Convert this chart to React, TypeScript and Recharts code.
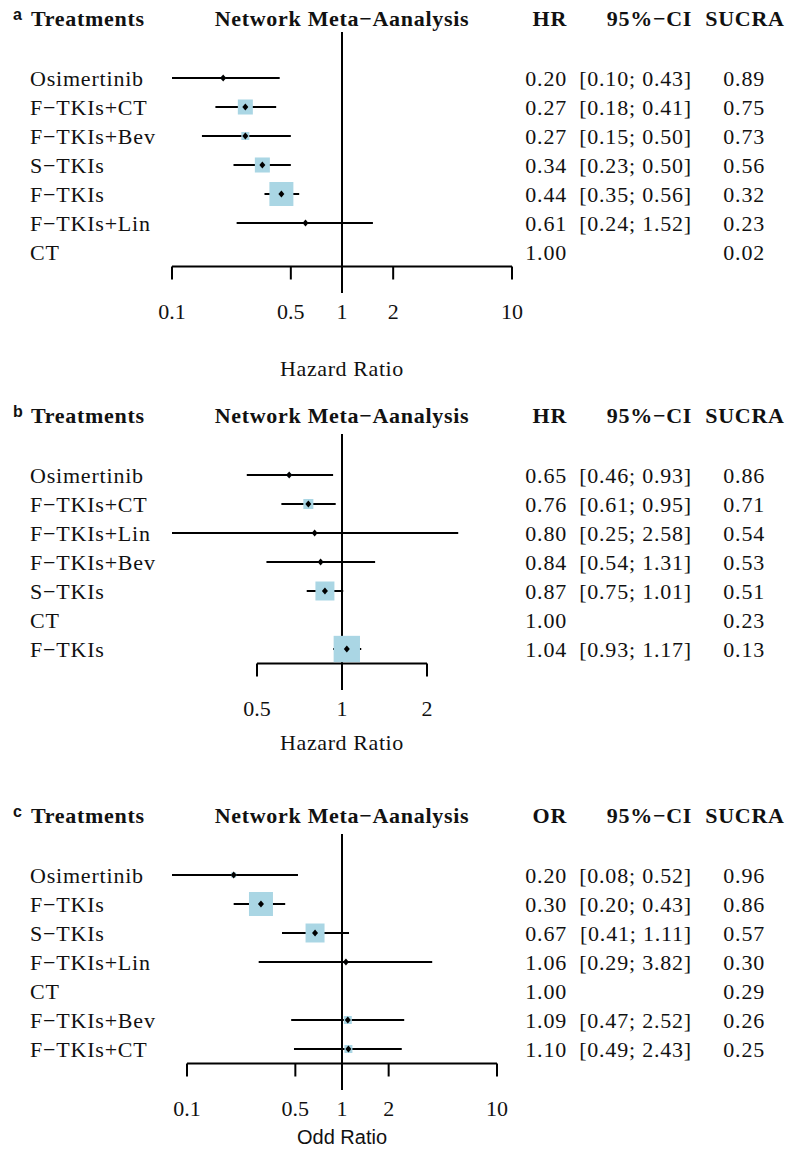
import React from 'react';
import { ComposedChart, Scatter, XAxis, YAxis, ErrorBar, ReferenceLine, Customized } from 'recharts';

const SERIF = '"Liberation Serif", "Times New Roman", Times, serif';
const SANS = '"Liberation Sans", Arial, Helvetica, sans-serif';

// panel a: hazard ratio
const aTreatments = ['Osimertinib', 'F−TKIs+CT', 'F−TKIs+Bev', 'S−TKIs', 'F−TKIs', 'F−TKIs+Lin', 'CT'];
const aEstimate = [0.2, 0.27, 0.27, 0.34, 0.44, 0.61, 1.0];
const aLower = [0.1, 0.18, 0.15, 0.23, 0.35, 0.24, null];
const aUpper = [0.43, 0.41, 0.5, 0.5, 0.56, 1.52, null];
const aSucra = [0.89, 0.75, 0.73, 0.56, 0.32, 0.23, 0.02];
const aWeight = [1.4, 19.5, 5.5, 19.5, 49.8, 0.4, 0];
const aTicks = [0.1, 0.5, 1, 2, 10];

// panel b: hazard ratio
const bTreatments = ['Osimertinib', 'F−TKIs+CT', 'F−TKIs+Lin', 'F−TKIs+Bev', 'S−TKIs', 'CT', 'F−TKIs'];
const bEstimate = [0.65, 0.76, 0.8, 0.84, 0.87, 1.0, 1.04];
const bLower = [0.46, 0.61, 0.25, 0.54, 0.75, null, 0.93];
const bUpper = [0.93, 0.95, 2.58, 1.31, 1.01, null, 1.17];
const bSucra = [0.86, 0.71, 0.54, 0.53, 0.51, 0.23, 0.13];
const bWeight = [1.4, 8.7, 0.2, 0.8, 31.2, 0, 60];
const bTicks = [0.5, 1, 2];

// panel c: odds ratio
const cTreatments = ['Osimertinib', 'F−TKIs', 'S−TKIs', 'F−TKIs+Lin', 'CT', 'F−TKIs+Bev', 'F−TKIs+CT'];
const cEstimate = [0.2, 0.3, 0.67, 1.06, 1.0, 1.09, 1.1];
const cLower = [0.08, 0.2, 0.41, 0.29, null, 0.47, 0.49];
const cUpper = [0.52, 0.43, 1.11, 3.82, null, 2.52, 2.43];
const cSucra = [0.96, 0.86, 0.57, 0.3, 0.29, 0.26, 0.25];
const cWeight = [2.2, 49.8, 31.2, 0.8, 0, 5.5, 5.5];
const cTicks = [0.1, 0.5, 1, 2, 10];

type Row = {
  row: number;
  name: string;
  est: number;
  lo: number | null;
  hi: number | null;
  sucra: number;
  weight: number;
  err: number[] | null;
};

const buildRows = (names: string[], est: number[], lo: (number | null)[], hi: (number | null)[], sucra: number[], weight: number[]): Row[] =>
  names.map((name, i) => ({
    row: i + 1,
    name,
    est: est[i],
    lo: lo[i],
    hi: hi[i],
    sucra: sucra[i],
    weight: weight[i],
    err: lo[i] == null || hi[i] == null ? null : [est[i] - (lo[i] as number), (hi[i] as number) - est[i]],
  }));

const ROW = 29;
const PLOT_TOP = 63.5;
const PLOT_LEFT = 172;
const PLOT_RIGHT = 512;
const COL_EST = 567;
const COL_CI = 692;
const COL_SUCRA = 765;
const INK = '#111';

const Box = (p: any) => {
  const s = Math.sqrt(p.payload.weight) * 3.4;
  if (s < 1) return <g />;
  return <rect x={p.cx - s / 2} y={p.cy - s / 2} width={s} height={s} fill="#aad6e4" />;
};

const Dot = (p: any) => (
  <polygon
    points={`${p.cx - 3},${p.cy} ${p.cx},${p.cy - 3.5} ${p.cx + 3},${p.cy} ${p.cx},${p.cy + 3.5}`}
    fill="#000"
  />
);

const RowTick = ({ y, payload, rows }: any) => {
  const r: Row | undefined = rows[Math.round(payload.value) - 1];
  if (!r) return <g />;
  return (
    <g fontFamily={SERIF} fontSize={22} fill={INK} letterSpacing={0.8}>
      <text x={30} y={y} dominantBaseline="central">{r.name}</text>
      <text x={COL_EST} y={y} textAnchor="end" dominantBaseline="central">{r.est.toFixed(2)}</text>
      {r.lo != null && r.hi != null && (
        <text x={COL_CI} y={y} textAnchor="end" dominantBaseline="central">
          {`[${r.lo.toFixed(2)}; ${r.hi.toFixed(2)}]`}
        </text>
      )}
      <text x={COL_SUCRA} y={y} textAnchor="end" dominantBaseline="central">{r.sucra.toFixed(2)}</text>
    </g>
  );
};

const Header = ({ letter, measure, axisTitle, titleY, titleSans }: any) => (
  <g fill={INK}>
    <text x={13} y={14} fontFamily={SANS} fontWeight="bold" fontSize={16} dominantBaseline="central">{letter}</text>
    <g fontFamily={SERIF} fontWeight="bold" fontSize={22} letterSpacing={0.7}>
      <text x={31} y={18} dominantBaseline="central">Treatments</text>
      <text x={(PLOT_LEFT + PLOT_RIGHT) / 2} y={18} textAnchor="middle" dominantBaseline="central">Network Meta−Aanalysis</text>
      <text x={COL_EST} y={18} textAnchor="end" dominantBaseline="central">{measure}</text>
      <text x={COL_CI} y={18} textAnchor="end" dominantBaseline="central">95%−CI</text>
      <text x={745} y={18} textAnchor="middle" dominantBaseline="central">SUCRA</text>
    </g>
    <text
      x={(PLOT_LEFT + PLOT_RIGHT) / 2}
      y={titleY}
      textAnchor="middle"
      dominantBaseline="central"
      fontFamily={titleSans ? SANS : SERIF}
      fontSize={titleSans ? 20 : 22}
      letterSpacing={titleSans ? 0 : 0.6}
    >
      {axisTitle}
    </text>
  </g>
);

interface PanelProps {
  letter: string;
  measure: string;
  axisTitle: string;
  titleSans?: boolean;
  rows: Row[];
  ticks: number[];
  domain: [number, number];
  top: number;
  height: number;
  titleY: number;
  refTop: number;
  refBottom: number;
}

const Panel = ({ letter, measure, axisTitle, titleSans, rows, ticks, domain, top, height, titleY, refTop, refBottom }: PanelProps) => {
  const n = rows.length;
  const withCi = rows.filter((r) => r.err != null);
  const axisHeight = height - PLOT_TOP - n * ROW - 4;
  return (
    <div style={{ position: 'absolute', left: 0, top }}>
      <ComposedChart width={800} height={height} margin={{ top: PLOT_TOP, right: 800 - PLOT_RIGHT, bottom: 4, left: 0 }}>
        <XAxis
          type="number"
          dataKey="est"
          scale="log"
          domain={domain}
          allowDataOverflow
          ticks={ticks}
          interval={0}
          axisLine={false}
          tickLine={{ stroke: '#000', strokeWidth: 2 }}
          tickSize={13}
          tickMargin={24}
          tick={{ fontFamily: SERIF, fontSize: 22, fill: INK }}
          tickFormatter={(v: number) => String(v)}
          height={axisHeight}
        />
        <YAxis
          type="number"
          dataKey="row"
          domain={[0.5, n + 0.5]}
          reversed
          allowDataOverflow
          ticks={rows.map((r) => r.row)}
          interval={0}
          width={PLOT_LEFT}
          axisLine={false}
          tickLine={false}
          tick={(t: any) => <RowTick {...t} rows={rows} />}
        />
        <ReferenceLine
          segment={[{ x: 1, y: 0.5 - refTop }, { x: 1, y: n + 0.5 + refBottom }]}
          ifOverflow="visible"
          stroke="#000"
          strokeWidth={2}
        />
        <ReferenceLine
          segment={[{ x: ticks[0], y: n + 0.5 }, { x: ticks[ticks.length - 1], y: n + 0.5 }]}
          ifOverflow="visible"
          stroke="#000"
          strokeWidth={2}
        />
        <Scatter data={withCi} shape={Box} isAnimationActive={false} />
        <Scatter data={withCi} shape={Dot} isAnimationActive={false}>
          <ErrorBar dataKey="err" direction="x" width={0} stroke="#000" strokeWidth={2} isAnimationActive={false} />
        </Scatter>
        <Customized
          component={<Header letter={letter} measure={measure} axisTitle={axisTitle} titleY={titleY} titleSans={titleSans} />}
        />
      </ComposedChart>
    </div>
  );
};

export default function App() {
  const aRows = buildRows(aTreatments, aEstimate, aLower, aUpper, aSucra, aWeight);
  const bRows = buildRows(bTreatments, bEstimate, bLower, bUpper, bSucra, bWeight);
  const cRows = buildRows(cTreatments, cEstimate, cLower, cUpper, cSucra, cWeight);
  return (
    <div style={{ position: 'absolute', left: 0, top: 0, width: 800, height: 1165, background: '#fff' }}>
      <Panel letter="a" measure="HR" axisTitle="Hazard Ratio" rows={aRows} ticks={aTicks} domain={[0.1, 10]}
        top={0} height={397} titleY={368} refTop={1.09} refBottom={0.91} />
      <Panel letter="b" measure="HR" axisTitle="Hazard Ratio" rows={bRows} ticks={bTicks} domain={[0.25, 4]}
        top={397} height={400} titleY={345} refTop={0.91} refBottom={0.91} />
      <Panel letter="c" measure="OR" axisTitle="Odd Ratio" titleSans rows={cRows} ticks={cTicks} domain={[0.08, 12.5]}
        top={797} height={368} titleY={340} refTop={0.91} refBottom={0.91} />
    </div>
  );
}
